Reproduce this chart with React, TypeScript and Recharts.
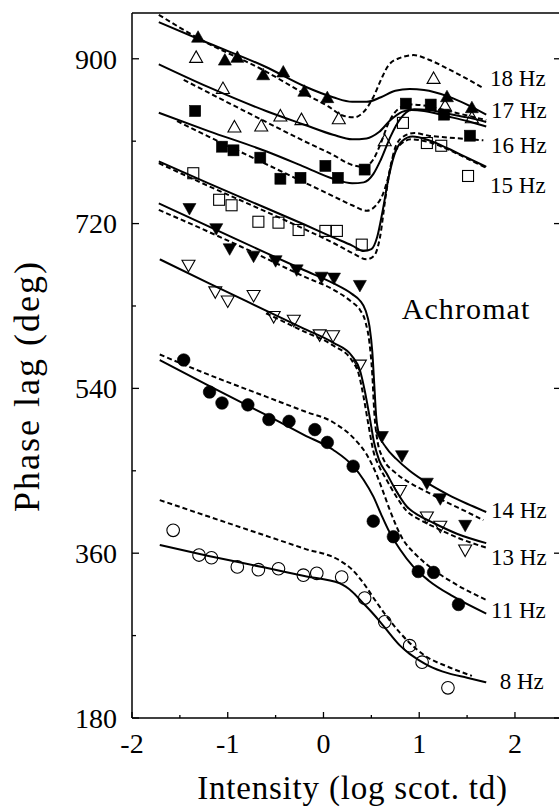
import { ComposedChart, Line, Scatter, XAxis, YAxis, ReferenceDot } from 'recharts'

type Pt = [number, number]
type MarkKind = 'upFill' | 'upOpen' | 'sqFill' | 'sqOpen' | 'downFill' | 'downOpen' | 'dotFill' | 'dotOpen'

const FONT = "'Liberation Serif', 'Times New Roman', serif"

// axis ticks
const xMajor = [-2, -1, 0, 1, 2]
const xMinor = [-1.5, -0.5, 0.5, 1.5]
const yMajor = [180, 360, 540, 720, 900]
const yMinor = [270, 450, 630, 810]

// 18 Hz: measured phase, model fit (solid), alternative model (dashed)
const obs18: Pt[] = [[-1.31, 923], [-1.03, 898], [-0.9, 901], [-0.63, 882], [-0.42, 885], [-0.2, 864], [0.04, 857], [1.29, 858], [1.55, 846]]
const fit18: Pt[] = [[-1.72, 940], [-1.2, 917], [-0.6, 891], [-0.2, 870], [0.1, 858], [0.3, 853], [0.45, 853], [0.6, 858], [0.75, 865], [0.9, 867], [1.05, 866], [1.3, 859], [1.5, 850], [1.7, 839]]
const alt18: Pt[] = [[-1.72, 948], [-1.3, 922], [-0.6, 886], [-0.2, 862], [0.05, 848], [0.2, 838], [0.32, 836], [0.42, 842], [0.52, 858], [0.6, 877], [0.68, 893], [0.8, 901], [0.94, 904], [1.1, 899], [1.3, 889], [1.5, 878], [1.67, 868]]

// 17 Hz
const obs17: Pt[] = [[-1.33, 901], [-1.05, 867], [-0.93, 825], [-0.65, 826], [-0.45, 837], [-0.23, 833], [0.16, 834], [0.64, 810], [1.15, 878], [1.27, 848], [1.55, 835]]
const fit17: Pt[] = [[-1.72, 894], [-1.2, 869], [-0.6, 843], [-0.2, 828], [0.1, 817], [0.3, 812], [0.45, 813], [0.58, 820], [0.7, 833], [0.82, 842], [0.95, 845], [1.1, 844], [1.3, 840], [1.5, 836], [1.7, 831]]
const alt17: Pt[] = [[-1.46, 877], [-1.2, 863], [-0.6, 831], [-0.2, 810], [0.1, 795], [0.3, 784], [0.42, 782], [0.52, 790], [0.6, 808], [0.68, 830], [0.78, 845], [0.9, 850], [1.05, 849], [1.3, 843], [1.7, 833]]

// 16 Hz
const obs16: Pt[] = [[-1.34, 843], [-1.06, 804], [-0.94, 800], [-0.66, 792], [-0.45, 769], [-0.24, 770], [0.02, 783], [0.15, 770], [0.43, 779], [0.86, 851], [1.12, 850], [1.26, 839], [1.53, 816]]
const fit16: Pt[] = [[-1.72, 841], [-1.2, 821], [-0.6, 799], [-0.2, 782], [0.1, 769], [0.3, 764], [0.42, 765], [0.52, 774], [0.6, 790], [0.7, 815], [0.8, 834], [0.92, 844], [1.05, 843], [1.3, 837], [1.5, 832], [1.7, 826]]
const alt16: Pt[] = [[-1.53, 832], [-1.2, 815], [-0.6, 785], [-0.2, 765], [0.1, 750], [0.3, 740], [0.45, 734], [0.55, 740], [0.62, 752], [0.68, 772], [0.74, 800], [0.82, 814], [0.95, 819], [1.1, 816], [1.3, 814], [1.67, 811]]

// 15 Hz
const obs15: Pt[] = [[-1.36, 775], [-1.09, 746], [-0.96, 740], [-0.68, 722], [-0.47, 721], [-0.26, 713], [0.02, 712], [0.14, 712], [0.4, 697], [0.83, 830], [1.08, 808], [1.23, 805], [1.51, 772]]
const fit15: Pt[] = [[-1.72, 788], [-1.2, 764], [-0.6, 737], [-0.2, 719], [0.1, 705], [0.3, 696], [0.42, 690], [0.5, 692], [0.56, 705], [0.62, 735], [0.68, 770], [0.74, 795], [0.82, 810], [0.93, 815], [1.1, 811], [1.3, 802], [1.5, 792], [1.7, 782]]
const alt15: Pt[] = [[-1.72, 786], [-1.2, 761], [-0.6, 733], [-0.2, 714], [0.1, 699], [0.3, 688], [0.45, 681], [0.53, 685], [0.59, 705], [0.65, 750], [0.71, 787], [0.8, 806], [0.92, 812], [1.1, 809], [1.3, 801], [1.5, 791], [1.7, 781]]

// 14 Hz
const obs14: Pt[] = [[-1.4, 737], [-1.12, 715], [-0.98, 693], [-0.73, 685], [-0.5, 680], [-0.28, 670], [-0.02, 662], [0.11, 661], [0.38, 653], [0.61, 488], [0.82, 467], [1.08, 437], [1.22, 420], [1.48, 391]]
const fit14: Pt[] = [[-1.72, 742], [-1.2, 717], [-0.6, 688], [-0.2, 669], [0.1, 655], [0.3, 643], [0.38, 636], [0.44, 625], [0.48, 608], [0.51, 580], [0.53, 545], [0.55, 510], [0.58, 490], [0.65, 476], [0.76, 463], [0.9, 450], [1.08, 437], [1.3, 424], [1.5, 414], [1.7, 405]]
const alt14: Pt[] = [[-1.72, 735], [-1.2, 711], [-0.6, 682], [-0.2, 662], [0.1, 648], [0.3, 634], [0.38, 626], [0.44, 612], [0.48, 590], [0.51, 555], [0.53, 515], [0.56, 485], [0.62, 464], [0.75, 448], [0.9, 437], [1.08, 427], [1.3, 415], [1.5, 405], [1.67, 396]]

// 13 Hz
const obs13: Pt[] = [[-1.41, 675], [-1.13, 646], [-1.0, 636], [-0.73, 642], [-0.52, 619], [-0.31, 615], [-0.04, 599], [0.1, 598], [0.38, 566], [0.8, 429], [1.08, 400], [1.22, 390], [1.48, 364]]
const fit13: Pt[] = [[-1.71, 681], [-1.2, 655], [-0.6, 625], [-0.2, 605], [0.1, 590], [0.3, 575], [0.38, 560], [0.43, 538], [0.48, 510], [0.53, 480], [0.58, 462], [0.66, 447], [0.76, 428], [0.87, 411], [1.0, 401], [1.15, 393], [1.4, 381], [1.7, 371]]
const alt13: Pt[] = [[-0.6, 622], [-0.2, 602], [0.1, 587], [0.3, 570], [0.37, 555], [0.42, 530], [0.47, 500], [0.52, 472], [0.58, 455], [0.66, 440], [0.76, 422], [0.87, 406], [1.0, 397], [1.15, 389], [1.4, 377], [1.7, 366]]

// 11 Hz
const obs11: Pt[] = [[-1.46, 571], [-1.19, 536], [-1.06, 524], [-0.79, 522], [-0.57, 506], [-0.36, 504], [-0.09, 495], [0.04, 481], [0.31, 455], [0.52, 395], [0.73, 378], [0.99, 340], [1.15, 339], [1.41, 304]]
const fit11: Pt[] = [[-1.71, 571], [-1.2, 543], [-0.6, 511], [-0.2, 489], [0.1, 473], [0.31, 455], [0.42, 440], [0.52, 422], [0.6, 403], [0.69, 383], [0.8, 364], [0.94, 345], [1.1, 330], [1.35, 313], [1.7, 294]]
const alt11: Pt[] = [[-1.71, 577], [-1.2, 555], [-0.6, 531], [-0.2, 515], [0.1, 503], [0.33, 484], [0.45, 468], [0.55, 447], [0.62, 428], [0.69, 408], [0.83, 375], [0.95, 360], [1.11, 345], [1.4, 325], [1.7, 309]]

// 8 Hz
const obs8: Pt[] = [[-1.57, 385], [-1.3, 358], [-1.17, 355], [-0.9, 345], [-0.68, 342], [-0.47, 343], [-0.21, 336], [-0.07, 338], [0.19, 334], [0.43, 311], [0.64, 285], [0.9, 259], [1.03, 241], [1.3, 213]]
const fit8: Pt[] = [[-1.71, 369], [-1.2, 357], [-0.6, 344], [-0.2, 335], [0.17, 327], [0.3, 318], [0.4, 307], [0.5, 296], [0.6, 284], [0.7, 271], [0.8, 259], [0.9, 250], [1.0, 243], [1.1, 237], [1.3, 229], [1.5, 224], [1.7, 219]]
const alt8: Pt[] = [[-1.71, 418], [-1.2, 400], [-0.6, 379], [-0.2, 365], [0.17, 352], [0.3, 342], [0.42, 327], [0.55, 307], [0.66, 291], [0.8, 273], [0.9, 262], [1.06, 248], [1.3, 236], [1.55, 226]]

const rows = (pts: Pt[]) => pts.map(([x, y]) => ({ x, y }))

// one entry per stimulus frequency; tag = where its "NN Hz" text sits (data units)
const series: { hz: string; obs: Pt[]; fit: Pt[]; alt: Pt[]; mark: MarkKind; tag: Pt }[] = [
  { hz: '18 Hz', obs: obs18, fit: fit18, alt: alt18, mark: 'upFill', tag: [1.74, 879] },
  { hz: '17 Hz', obs: obs17, fit: fit17, alt: alt17, mark: 'upOpen', tag: [1.75, 844] },
  { hz: '16 Hz', obs: obs16, fit: fit16, alt: alt16, mark: 'sqFill', tag: [1.75, 806] },
  { hz: '15 Hz', obs: obs15, fit: fit15, alt: alt15, mark: 'sqOpen', tag: [1.74, 762] },
  { hz: '14 Hz', obs: obs14, fit: fit14, alt: alt14, mark: 'downFill', tag: [1.75, 407] },
  { hz: '13 Hz', obs: obs13, fit: fit13, alt: alt13, mark: 'downOpen', tag: [1.75, 356] },
  { hz: '11 Hz', obs: obs11, fit: fit11, alt: alt11, mark: 'dotFill', tag: [1.75, 298] },
  { hz: '8 Hz', obs: obs8, fit: fit8, alt: alt8, mark: 'dotOpen', tag: [1.84, 220] },
]

const byValue = (a: number, b: number) => a - b

function Mark({ cx, cy, kind }: { cx: number; cy: number; kind: MarkKind }) {
  if (cx == null || cy == null) return null
  const filled = kind.endsWith('Fill')
  const fill = filled ? '#000' : 'none'
  const sw = filled ? 0.6 : 1.1
  if (kind.startsWith('up'))
    return <polygon points={`${cx},${cy - 7} ${cx + 6.5},${cy + 4.5} ${cx - 6.5},${cy + 4.5}`} fill={fill} stroke="#000" strokeWidth={sw} />
  if (kind.startsWith('down'))
    return <polygon points={`${cx},${cy + 7} ${cx + 6.5},${cy - 4.5} ${cx - 6.5},${cy - 4.5}`} fill={fill} stroke="#000" strokeWidth={sw} />
  if (kind.startsWith('sq'))
    return <rect x={cx - 5.5} y={cy - 5.5} width={11} height={11} fill={fill} stroke="#000" strokeWidth={sw} />
  return <circle cx={cx} cy={cy} r={6.3} fill={fill} stroke="#000" strokeWidth={sw} />
}

// ticks point into the plot; only major ones carry a number
function LeftTick({ x, y, payload }: any) {
  const major = yMajor.includes(payload.value)
  return (
    <g>
      <line x1={x} x2={x + (major ? 7 : 4)} y1={y} y2={y} stroke="#000" strokeWidth={1.3} />
      {major && (
        <text x={x - 15} y={y} dy="0.35em" textAnchor="end" fontSize={28} fontFamily={FONT} fill="#000">
          {payload.value}
        </text>
      )}
    </g>
  )
}

function RightTick({ x, y }: any) {
  return <line x1={x} x2={x - 5} y1={y} y2={y} stroke="#000" strokeWidth={1.3} />
}

function BottomTick({ x, y, payload }: any) {
  const major = xMajor.includes(payload.value)
  return (
    <g>
      <line x1={x} x2={x} y1={y} y2={y - (major ? 6 : 3)} stroke="#000" strokeWidth={1.3} />
      {major && (
        <text x={x} y={y + 35} textAnchor="middle" fontSize={28} fontFamily={FONT} fill="#000">
          {payload.value}
        </text>
      )}
    </g>
  )
}

function TopTick({ x, y }: any) {
  return <line x1={x} x2={x} y1={y} y2={y + 6} stroke="#000" strokeWidth={1.3} />
}

function XTitle({ viewBox }: any) {
  const { x = 132, y = 718, width = 427 } = viewBox || {}
  return (
    <text x={x + width / 2 + 7} y={y + 81} textAnchor="middle" fontSize={33} letterSpacing={0.8} fontFamily={FONT} fill="#000">
      Intensity (log scot. td)
    </text>
  )
}

function YTitle({ viewBox }: any) {
  const { x = 0, y = 13 } = viewBox || {}
  const cx = x + 26
  const cy = y + 373
  return (
    <text x={cx} y={cy} dy="0.35em" transform={`rotate(-90 ${cx} ${cy})`} textAnchor="middle" fontSize={36} letterSpacing={2} fontFamily={FONT} fill="#000">
      Phase lag (deg)
    </text>
  )
}

function Tag({ viewBox, text, size = 23, spacing = 0 }: any) {
  if (!viewBox) return null
  return (
    <text x={viewBox.x} y={viewBox.y} dy="0.35em" fontSize={size} letterSpacing={spacing} fontFamily={FONT} fill="#000">
      {text}
    </text>
  )
}

export default function App() {
  return (
    <div style={{ position: 'absolute', left: 0, top: 0, background: '#fff' }}>
      <ComposedChart width={560} height={807} margin={{ top: 0, right: 0, bottom: 0, left: 0 }}>
        <XAxis
          type="number"
          dataKey="x"
          domain={[-2, 2.46]}
          allowDataOverflow
          ticks={[...xMajor, ...xMinor].sort(byValue)}
          interval={0}
          tick={<BottomTick />}
          tickSize={0}
          tickMargin={0}
          tickLine={false}
          axisLine={{ stroke: '#000', strokeWidth: 1.5 }}
          height={89}
          label={<XTitle />}
        />
        <XAxis
          xAxisId="top"
          orientation="top"
          type="number"
          domain={[-2, 2.46]}
          allowDataOverflow
          ticks={xMajor}
          interval={0}
          tick={<TopTick />}
          tickSize={0}
          tickMargin={0}
          tickLine={false}
          axisLine={{ stroke: '#000', strokeWidth: 1.5 }}
          height={13}
        />
        <YAxis
          type="number"
          dataKey="y"
          domain={[180, 950]}
          allowDataOverflow
          ticks={[...yMajor, ...yMinor].sort(byValue)}
          interval={0}
          tick={<LeftTick />}
          tickSize={0}
          tickMargin={0}
          tickLine={false}
          axisLine={{ stroke: '#000', strokeWidth: 1.5 }}
          width={132}
          label={<YTitle />}
        />
        <YAxis
          yAxisId="right"
          orientation="right"
          type="number"
          domain={[180, 950]}
          allowDataOverflow
          ticks={yMajor}
          interval={0}
          tick={<RightTick />}
          tickSize={0}
          tickMargin={0}
          tickLine={false}
          axisLine={false}
          width={1}
        />

        {series.map((s) => (
          <Line
            key={`alt-${s.hz}`}
            data={rows(s.alt)}
            dataKey="y"
            type="monotone"
            stroke="#000"
            strokeWidth={2}
            strokeDasharray="5 3"
            dot={false}
            activeDot={false}
            isAnimationActive={false}
          />
        ))}
        {series.map((s) => (
          <Line
            key={`fit-${s.hz}`}
            data={rows(s.fit)}
            dataKey="y"
            type="monotone"
            stroke="#000"
            strokeWidth={2}
            dot={false}
            activeDot={false}
            isAnimationActive={false}
          />
        ))}
        {series.map((s) => (
          <Scatter
            key={`obs-${s.hz}`}
            data={rows(s.obs)}
            shape={(p: any) => <Mark cx={p.cx} cy={p.cy} kind={s.mark} />}
            isAnimationActive={false}
          />
        ))}
        {series.map((s) => (
          <ReferenceDot
            key={`tag-${s.hz}`}
            x={s.tag[0]}
            y={s.tag[1]}
            r={0}
            fill="none"
            stroke="none"
            label={<Tag text={s.hz} />}
          />
        ))}
        <ReferenceDot x={0.817} y={627} r={0} fill="none" stroke="none" label={<Tag text="Achromat" size={30} spacing={1.1} />} />
      </ComposedChart>
    </div>
  )
}
